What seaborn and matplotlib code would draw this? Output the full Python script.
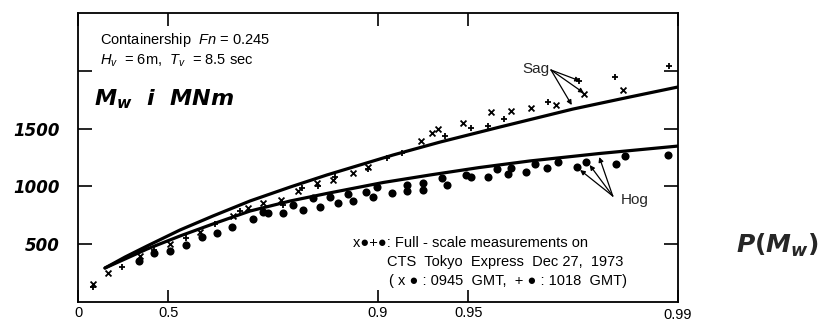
import numpy as np
import pandas as pd
import matplotlib
matplotlib.use("Agg")
import matplotlib.pyplot as plt
import matplotlib.transforms as mtransforms
import seaborn as sns

# ---- data: probability level P(M_w) and wave bending moment M_w (MNm) ----
# sagging moments, 0945 GMT record (x)
sag_0945_p = [0.109, 0.206, 0.379, 0.506, 0.608, 0.696, 0.729, 0.758, 0.789, 0.815,
              0.840, 0.859, 0.879, 0.892, 0.928, 0.934, 0.937, 0.948, 0.958, 0.964,
              0.969, 0.9745, 0.9794, 0.9847]
sag_0945_m = [156, 251, 398, 502, 606, 744, 813, 856, 882, 960,
              1029, 1055, 1116, 1168, 1393, 1462, 1496, 1548, 1644, 1652,
              1678, 1704, 1799, 1834]
# sagging moments, 1018 GMT record (+)
sag_1018_p = [0.109, 0.287, 0.442, 0.563, 0.651, 0.712, 0.793, 0.821, 0.842, 0.861,
              0.892, 0.907, 0.917, 0.940, 0.951, 0.957, 0.962, 0.9729, 0.9786, 0.9838,
              0.9893]
sag_1018_m = [130, 303, 450, 554, 675, 787, 839, 986, 1003, 1081,
              1150, 1246, 1289, 1436, 1505, 1522, 1583, 1730, 1912, 1946,
              2041]
# hogging moments, both records (filled circles)
hog_p = [0.374, 0.442, 0.506, 0.563, 0.614, 0.656, 0.693, 0.739, 0.758, 0.767,
         0.793, 0.808, 0.822, 0.835, 0.844, 0.855, 0.864, 0.874, 0.879, 0.890,
         0.896, 0.899, 0.910, 0.920, 0.920, 0.929, 0.929, 0.939, 0.941, 0.949,
         0.951, 0.957, 0.960, 0.963, 0.964, 0.968, 0.970, 0.9727, 0.9749, 0.9783,
         0.9797, 0.9839, 0.9850, 0.9892]
hog_m = [355, 424, 441, 493, 562, 597, 649, 718, 779, 770,
         770, 839, 796, 900, 822, 908, 856, 934, 874, 952,
         908, 995, 943, 1012, 960, 1029, 969, 1073, 1012, 1099,
         1081, 1081, 1150, 1107, 1159, 1125, 1194, 1159, 1211, 1168,
         1211, 1194, 1263, 1272]
# calculated long-term distributions
sag_curve_p = [0.187, 0.303, 0.411, 0.543, 0.645, 0.733, 0.804, 0.852, 0.911, 0.938,
               0.9608, 0.9776, 0.9855, 0.990]
sag_curve_m = [294, 389, 484, 623, 744, 874, 995, 1099, 1272, 1384,
               1514, 1669, 1773, 1860]
hog_curve_p = [0.187, 0.303, 0.411, 0.543, 0.645, 0.733, 0.804, 0.852, 0.904, 0.933,
               0.954, 0.9688, 0.9818, 0.990]
hog_curve_m = [294, 372, 458, 571, 675, 787, 874, 939, 1034, 1099,
               1163, 1220, 1285, 1349]

x_ticks = [0, 0.5, 0.9, 0.95, 0.99]
x_tick_labels = ["0", "0.5", "0.9", "0.95", "0.99"]
y_ticks = [500, 1000, 1500, 2000]
y_tick_labels = ["500", "1000", "1500", ""]

# ---- style ----
sns.set_theme(style="white")
plt.rcParams["font.family"] = ["Liberation Sans", "DejaVu Sans"]
plt.rcParams["mathtext.fontset"] = "custom"
plt.rcParams["mathtext.it"] = "DejaVu Sans:italic:bold"
plt.rcParams["mathtext.rm"] = "DejaVu Sans:bold"
plt.rcParams["mathtext.sf"] = "Liberation Sans:italic"

fig = plt.figure(figsize=(8.30, 3.22), dpi=100)
ax = fig.add_axes([78 / 830, 1 - 302 / 322, 600 / 830, 289 / 322])


def fwd(p):
    p = np.clip(np.asarray(p, dtype=float), 0.0, 0.999999)
    return -np.log1p(-p)


def inv(u):
    return 1.0 - np.exp(-np.asarray(u, dtype=float))


# exponential probability paper: x = -ln(1 - P)
ax.set_xscale("function", functions=(fwd, inv))

sag_curve = pd.DataFrame({"P": sag_curve_p, "M": sag_curve_m})
hog_curve = pd.DataFrame({"P": hog_curve_p, "M": hog_curve_m})
sns.lineplot(data=sag_curve, x="P", y="M", ax=ax, color="black", lw=2.3,
             sort=False, estimator=None)
sns.lineplot(data=hog_curve, x="P", y="M", ax=ax, color="black", lw=2.3,
             sort=False, estimator=None)

sns.scatterplot(x=hog_p, y=hog_m, ax=ax, marker="o", color="black", s=34,
                edgecolor="black", linewidth=0)
sns.scatterplot(x=sag_0945_p, y=sag_0945_m, ax=ax, marker="x", color="black",
                s=18, linewidth=1.3)
sns.scatterplot(x=sag_1018_p, y=sag_1018_m, ax=ax, marker="+", color="black",
                s=22, linewidth=1.3)

ax.set_xlim(0, 0.99)
ax.set_ylim(0, 2500)
ax.set_xlabel("")
ax.set_ylabel("")

ax.xaxis.set_major_locator(matplotlib.ticker.FixedLocator(x_ticks))
ax.xaxis.set_minor_locator(matplotlib.ticker.NullLocator())
ax.set_xticklabels(x_tick_labels, fontsize=10.5)
ax.set_yticks(y_ticks)
ax.set_yticklabels(y_tick_labels, fontsize=12, fontstyle="italic",
                   fontweight="bold", family="DejaVu Sans")
ax.tick_params(axis="x", which="major", direction="in", length=9, width=1.2,
               top=True, bottom=True, pad=3, colors="black")
ax.tick_params(axis="y", which="major", direction="in", length=10, width=1.2,
               left=True, right=True, pad=13, colors="black")

# the 0.99 label sits a little lower than the others
last = ax.get_xticklabels()[-1]
last.set_transform(last.get_transform() +
                   mtransforms.ScaledTranslation(0, -1.5 / 72, fig.dpi_scale_trans))

for s in ax.spines.values():
    s.set_color("black")
    s.set_linewidth(1.3)

# case description
txt = dict(transform=ax.transAxes, fontsize=10.5, color="black", va="center",
           ha="left")
ax.text(0.037, 0.905, r"Containership  $\mathsf{Fn}$ = 0.245", **txt)
ax.text(0.037, 0.835, r"$\mathsf{H_v}$  = 6m,  $\mathsf{T_v}$  = 8.5 sec", **txt)
ax.text(0.026, 0.703, r"$M_w\ \ i\ \ MNm$", transform=ax.transAxes, fontsize=16,
        va="center", ha="left", color="black")

# measurement legend
ax.text(0.458, 0.204, "x\u25cf+\u25cf: Full - scale measurements on", **txt)
ax.text(0.515, 0.138, "CTS  Tokyo  Express  Dec 27,  1973", **txt)
ax.text(0.518, 0.074, "( x \u25cf : 0945  GMT,  + \u25cf : 1018  GMT)", **txt)

# Sag / Hog pointers
arrow = dict(arrowstyle="-|>", color="black", lw=0.9, mutation_scale=7,
             shrinkA=0, shrinkB=0)
ax.text(0.9703, 2015, "Sag", fontsize=11, ha="center", va="center")
for tp, tm in [(0.9788, 1912), (0.9794, 1808), (0.9774, 1704)]:
    ax.annotate("", xy=(tp, tm), xytext=(0.9735, 2007), arrowprops=arrow)
ax.text(0.9845, 882, "Hog", fontsize=11, ha="left", va="center")
for tp, tm in [(0.9788, 1142), (0.9803, 1185), (0.9817, 1254)]:
    ax.annotate("", xy=(tp, tm), xytext=(0.9835, 917), arrowprops=arrow)

fig.text(0.937, 0.238, r"$P(M_w)$", fontsize=18, ha="center", va="center")

fig.savefig("out.png", dpi=100)
